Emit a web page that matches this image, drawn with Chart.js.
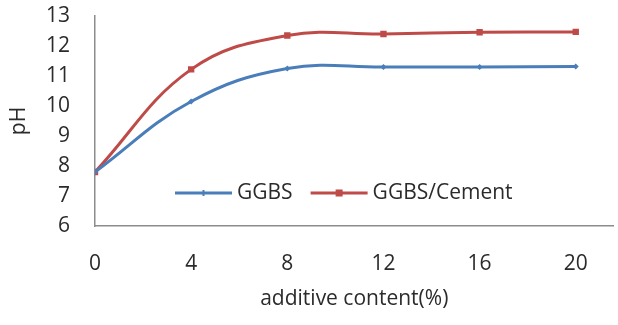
<!DOCTYPE html>
<html>
<head>
<meta charset="utf-8">
<script src="https://cdn.jsdelivr.net/npm/chart.js@4/dist/chart.umd.min.js"></script>
<style>
  html, body { margin: 0; padding: 0; background: #fff; }
  #wrap { width: 618px; height: 325px; }
</style>
</head>
<body>
<div id="wrap"><canvas id="myChart" width="618" height="325"></canvas></div>
<script>
var xValues = [0, 4, 8, 12, 16, 20];
var ggbs = [7.8, 10.15, 11.25, 11.3, 11.3, 11.32];
var ggbsCement = [7.8, 11.22, 12.35, 12.4, 12.46, 12.47];
var seriesNames = ["GGBS", "GGBS/Cement"];
var yTicks = [6, 7, 8, 9, 10, 11, 12, 13];

var blue = "#4a7ebb", red = "#be4b48";
var txt = "#2b2b2b";
var fontName = "'Open Sans', 'Liberation Sans', sans-serif";

function pts(ys) {
  return ys.map(function (y, i) { return { x: xValues[i], y: y }; });
}

// legend drawn inside the plot, bottom middle
var insideLegend = {
  id: "insideLegend",
  afterDraw: function (chart) {
    var ctx = chart.ctx, area = chart.chartArea;
    var y = area.bottom - 33;
    var x = 175;
    ctx.save();
    ctx.font = "21px " + fontName;
    ctx.textBaseline = "middle";
    chart.data.datasets.forEach(function (ds) {
      ctx.strokeStyle = ds.borderColor;
      ctx.lineWidth = 3;
      ctx.beginPath();
      ctx.moveTo(x, y);
      ctx.lineTo(x + 57, y);
      ctx.stroke();
      ctx.fillStyle = ds.borderColor;
      if (ds.pointStyle === "rect") {
        ctx.fillRect(x + 25, y - 3.5, 7, 7);
      } else {
        ctx.fillRect(x + 27.5, y - 3, 2, 6);
      }
      ctx.fillStyle = txt;
      ctx.fillText(ds.label, x + 62, y);
      x += 62 + ctx.measureText(ds.label).width + 18;
    });
    ctx.restore();
  }
};

var ch = document.getElementById("myChart");
new Chart(ch, {
  type: "line",
  data: {
    datasets: [
      {
        label: seriesNames[0],
        data: pts(ggbs),
        borderColor: blue,
        backgroundColor: blue,
        borderWidth: 3,
        tension: 0.4,
        pointStyle: "rectRot",
        pointRadius: 3,
        pointBorderWidth: 0
      },
      {
        label: seriesNames[1],
        data: pts(ggbsCement),
        borderColor: red,
        backgroundColor: red,
        borderWidth: 3,
        tension: 0.4,
        pointStyle: "rect",
        pointRadius: 4.5,
        pointBorderWidth: 0
      }
    ]
  },
  options: {
    responsive: false,
    animation: false,
    layout: { padding: { top: 16, right: 0, bottom: 0, left: 0 } },
    plugins: {
      legend: { display: false },
      tooltip: { enabled: false }
    },
    scales: {
      x: {
        type: "linear",
        min: 0,
        max: 21.57,
        afterBuildTicks: function (scale) {
          scale.ticks = xValues.map(function (v) { return { value: v }; });
        },
        afterFit: function (scale) {
          scale.height = 99;
          scale.paddingLeft = 0; scale.paddingRight = 0;
        },
        grid: { color: "transparent", drawTicks: false },
        border: { display: true, color: "#8c8c8c", width: 1.5 },
        ticks: {
          padding: 25,
          color: txt,
          maxRotation: 0,
          autoSkip: false,
          font: { size: 21, family: fontName }
        },
        title: {
          display: true,
          text: "additive content(%)",
          color: txt,
          padding: { top: 0, bottom: 13 },
          font: { size: 21, family: fontName }
        }
      },
      y: {
        min: 6,
        max: 13,
        afterBuildTicks: function (scale) {
          scale.ticks = yTicks.map(function (v) { return { value: v }; });
        },
        afterFit: function (scale) {
          scale.width = 95;
          scale.paddingTop = 0; scale.paddingBottom = 0;
        },
        grid: { color: "transparent", drawTicks: false },
        border: { display: true, color: "#8c8c8c", width: 1.5 },
        ticks: {
          padding: 25,
          color: txt,
          font: { size: 21, family: fontName }
        },
        title: {
          display: true,
          text: "pH",
          color: txt,
          padding: { top: 6, bottom: 0 },
          font: { size: 21, family: fontName }
        }
      }
    }
  },
  plugins: [insideLegend]
});
</script>
</body>
</html>
